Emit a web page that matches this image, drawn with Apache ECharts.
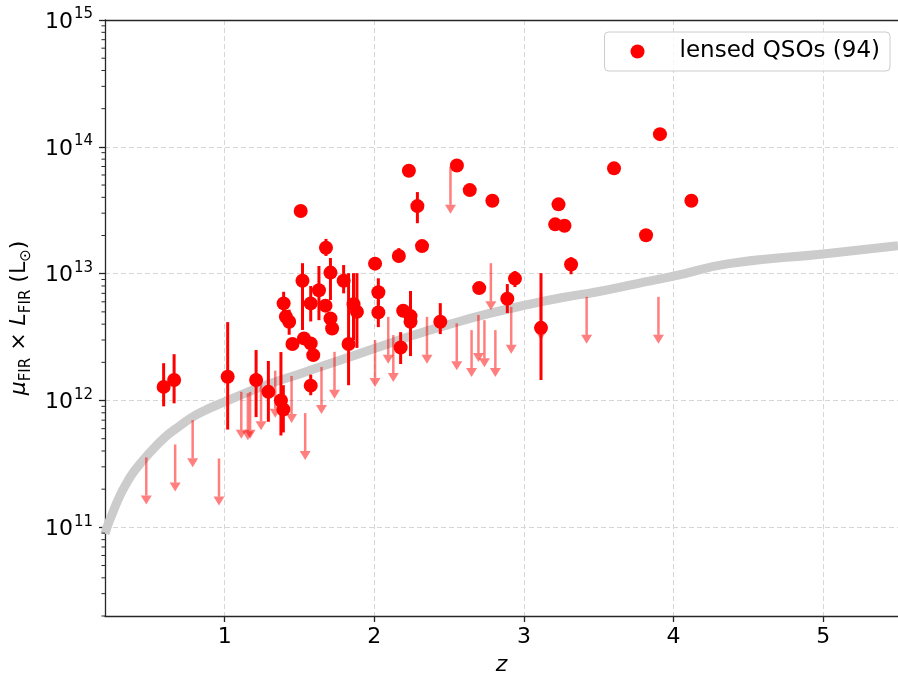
<!DOCTYPE html>
<html>
<head>
<meta charset="utf-8">
<script src="https://cdn.jsdelivr.net/npm/echarts@6/dist/echarts.min.js"></script>
<style>
  html, body { margin: 0; padding: 0; background: #ffffff; }
  #chart { width: 898px; height: 682px; }
</style>
</head>
<body>
<div id="chart"></div>
<script>
// Detected lensed QSOs: redshift, mu*L_FIR and its error range (null = no bar)
const detZ  = [0.592, 0.662, 1.020, 1.210, 1.292, 1.376, 1.392, 1.508, 1.677, 2.005,
               2.164, 1.520, 1.707, 1.795, 1.630, 1.394, 1.575, 1.409, 1.431, 1.674,
               1.861, 1.884, 1.707, 1.718, 1.530, 1.575, 1.453, 1.592, 1.828, 1.575,
               2.027, 2.027, 2.193, 2.242, 2.242, 2.176, 2.441, 2.231, 2.288, 2.319,
               2.552, 2.638, 2.789, 2.701, 2.940, 2.889, 3.114, 3.231, 3.209, 3.271,
               3.315, 3.602, 3.909, 3.816, 4.119];
const detL  = [1.28e12, 1.45e12, 1.54e12, 1.45e12, 1.17e12, 1.00e12, 8.5e11, 3.12e13, 1.60e13, 1.20e13,
               1.38e13, 8.8e12, 1.02e13, 8.8e12, 7.4e12, 5.83e12, 5.83e12, 4.57e12, 4.18e12, 5.6e12,
               5.75e12, 5.0e12, 4.44e12, 3.7e12, 3.09e12, 2.82e12, 2.79e12, 2.28e12, 2.79e12, 1.31e12,
               7.13e12, 4.95e12, 5.1e12, 4.63e12, 4.18e12, 2.62e12, 4.18e12, 6.48e13, 3.41e13, 1.65e13,
               7.12e13, 4.56e13, 3.76e13, 7.7e12, 9.15e12, 6.34e12, 3.74e12, 3.52e13, 2.45e13, 2.39e13,
               1.18e13, 6.77e13, 1.26e14, 2.01e13, 3.76e13];
const detLo = [9.0e11, 9.5e11, 5.9e11, 7.4e11, 6.8e11, 5.3e11, 5.6e11, null, 1.38e13, null,
               1.23e13, 3.6e12, 6.2e12, 7.0e12, 4.3e12, 4.47e12, 4.2e12, null, 3.3e12, null,
               3.0e12, 2.6e12, null, null, null, null, null, null, 1.32e12, 1.1e12,
               5.65e12, 3.79e12, null, 2.24e12, null, 1.94e12, 3.34e12, null, 2.5e13, null,
               null, null, null, null, 7.84e12, 4.89e12, 1.45e12, null, null, null,
               9.9e12, null, null, null, null];
const detHi = [1.97e12, 2.32e12, 4.15e12, 2.5e12, 2.05e12, 2.41e12, 1.32e12, null, 1.88e13, null,
               1.59e13, 1.21e13, 1.33e13, 1.17e13, 1.15e13, 7.2e12, 8.0e12, null, 5.2e12, null,
               1.01e13, 1.01e13, null, null, null, null, null, null, 1.01e13, 1.6e12,
               9.2e12, 6.2e12, null, 7.3e12, null, 3.46e12, 5.86e12, null, 4.4e13, null,
               null, null, null, null, 1.05e13, 8.28e12, 1.01e13, null, null, null,
               1.35e13, null, null, null, null];

// Non-detections: redshift and upper limit on mu*L_FIR
const limZ = [0.476, 0.669, 0.786, 0.962, 1.111, 1.155, 1.170, 1.243, 1.338, 1.447,
              1.538, 1.647, 1.734, 2.005, 2.093, 2.127, 2.352, 2.509, 2.551, 2.650,
              2.696, 2.736, 2.779, 2.809, 2.915, 3.114, 3.419, 3.899];
const limL = [3.56e11, 4.5e11, 7.0e11, 3.49e11, 1.17e12, 1.14e12, 1.17e12, 1.37e12, 1.72e12, 1.56e12,
              7.96e11, 1.84e12, 2.42e12, 3.0e12, 4.57e12, 3.28e12, 4.57e12, 6.97e13, 4.06e12, 3.59e12,
              4.72e12, 4.3e12, 1.21e13, 3.59e12, 5.48e12, 7.0e12, 6.57e12, 6.57e12];

// Detection-limit curve
const curveZ = [0.2, 0.22, 0.25, 0.3, 0.35, 0.4, 0.5, 0.6, 0.7, 0.8, 0.9, 1.0, 1.25, 1.5,
                1.75, 2.0, 2.25, 2.5, 2.75, 3.0, 3.25, 3.5, 3.75, 4.0, 4.37, 5.0, 5.5];
const curveL = [8.9e10, 1.05e11, 1.29e11, 1.78e11, 2.29e11, 2.82e11, 3.89e11, 5.13e11, 6.31e11, 7.59e11,
                8.71e11, 9.77e11, 1.29e12, 1.62e12, 2.04e12, 2.57e12, 3.24e12, 3.98e12, 4.79e12, 5.62e12,
                6.46e12, 7.24e12, 8.32e12, 9.55e12, 1.2e13, 1.43e13, 1.66e13];

const xTicks = [1, 2, 3, 4, 5];
const yTicks = [1e11, 1e12, 1e13, 1e14, 1e15];
const X_MIN = 0.2, X_MAX = 5.5, Y_MIN = 2e10, Y_MAX = 1.0005e15;

const FONT = 'DejaVu Sans';
const RED = '#ff0000';
const LIM_RED = 'rgba(255,0,0,0.5)';
const AXIS_COLOR = '#262626';
const GRID_COLOR = '#d6d6d6';

// minor ticks of the log axis: 2..9 x 10^k
const minorVals = [];
for (let k = 10; k < 15; k++) {
  for (let m = 2; m <= 9; m++) {
    const v = m * Math.pow(10, k);
    if (v >= Y_MIN && v <= Y_MAX) minorVals.push(v);
  }
}

const scatterData = detZ.map((z, i) => [z, detL[i]]);
const barData = [];
detZ.forEach((z, i) => {
  if (detLo[i] !== null && detHi[i] !== null) barData.push([z, detLo[i], detHi[i]]);
});
const limData = limZ.map((z, i) => [z, limL[i]]);
const curveData = curveZ.map((z, i) => [z, curveL[i]]);

const chart = echarts.init(document.getElementById('chart'), null, { renderer: 'canvas' });

const ARROW_LEN = 47, HEAD_LEN = 9, HEAD_HALF = 5.5;

chart.setOption({
  animation: false,
  backgroundColor: '#ffffff',
  textStyle: { fontFamily: FONT },
  grid: { left: 103, right: -4, top: 20, bottom: 66, containLabel: false },
  legend: {
    data: [{ name: 'lensed QSOs (94)', icon: 'circle' }],
    right: 8, top: 32,
    orient: 'vertical',
    itemWidth: 14, itemHeight: 14,
    padding: [8, 10, 8, 26],
    backgroundColor: 'rgba(255,255,255,0.8)',
    borderColor: '#cccccc', borderWidth: 1, borderRadius: 4,
    textStyle: { fontFamily: FONT, fontSize: 23, color: '#000', padding: [0, 0, 0, 30] }
  },
  xAxis: [{
    type: 'value', min: X_MIN, max: X_MAX,
    axisLine: { show: true, lineStyle: { color: AXIS_COLOR, width: 1.3 } },
    axisTick: { show: true, customValues: xTicks, length: 6, inside: false, lineStyle: { color: AXIS_COLOR, width: 1.3 } },
    axisLabel: { customValues: xTicks, fontFamily: FONT, fontSize: 22, color: '#000', margin: 10 },
    splitLine: { show: true, lineStyle: { color: GRID_COLOR, width: 1, type: [5, 3] } },
    name: 'z', nameLocation: 'middle', nameGap: 38,
    nameTextStyle: { fontFamily: FONT, fontSize: 22, fontStyle: 'italic', color: '#000' }
  }, {
    type: 'value', min: X_MIN, max: X_MAX, position: 'top',
    axisLine: { show: true, lineStyle: { color: AXIS_COLOR, width: 1.3 } },
    axisTick: { show: false }, axisLabel: { show: false }, splitLine: { show: false }
  }],
  yAxis: {
    type: 'log', logBase: 10, min: Y_MIN, max: Y_MAX,
    axisLine: { show: true, lineStyle: { color: AXIS_COLOR, width: 1.3 } },
    axisTick: { show: true, customValues: yTicks, length: 6, lineStyle: { color: AXIS_COLOR, width: 1.3 } },
    axisLabel: {
      customValues: yTicks, margin: 12, color: '#000',
      formatter: v => '{b|10}{s|' + Math.round(Math.log10(v)) + '}',
      rich: {
        b: { fontFamily: FONT, fontSize: 22, color: '#000', lineHeight: 26, verticalAlign: 'bottom' },
        s: { fontFamily: FONT, fontSize: 15, color: '#000', lineHeight: 26, verticalAlign: 'top', padding: [0, 0, 8, 1] }
      }
    },
    splitLine: { show: true, lineStyle: { color: GRID_COLOR, width: 1, type: [5, 3] } },
    name: '{i|μ}{sub|FIR}{t| × }{i|L}{sub|FIR}{t| (L}{sub|⊙}{t|)}',
    nameLocation: 'middle', nameRotate: 90, nameGap: 62,
    nameTextStyle: {
      rich: {
        i: { fontFamily: FONT, fontSize: 22, fontStyle: 'italic', color: '#000', lineHeight: 28, verticalAlign: 'bottom' },
        t: { fontFamily: FONT, fontSize: 22, color: '#000', lineHeight: 28, verticalAlign: 'bottom' },
        sub: { fontFamily: FONT, fontSize: 15, color: '#000', lineHeight: 28, verticalAlign: 'bottom', padding: [0, 0, -4, 0] }
      }
    }
  },
  series: [
    {
      name: 'limit curve', type: 'line', data: curveData,
      smooth: 0.5, showSymbol: false, silent: true,
      lineStyle: { color: '#cccccc', width: 9, join: 'round' }, z: 1
    },
    {
      name: 'upper limits', type: 'custom', data: limData, z: 2, silent: true,
      renderItem: (params, api) => {
        const p = api.coord([api.value(0), api.value(1)]);
        const x = p[0], y = p[1];
        return {
          type: 'group',
          children: [
            { type: 'line', shape: { x1: x, y1: y, x2: x, y2: y + ARROW_LEN - HEAD_LEN },
              style: { stroke: LIM_RED, lineWidth: 2.5 } },
            { type: 'polygon',
              shape: { points: [[x - HEAD_HALF, y + ARROW_LEN - HEAD_LEN], [x + HEAD_HALF, y + ARROW_LEN - HEAD_LEN], [x, y + ARROW_LEN]] },
              style: { fill: LIM_RED } }
          ]
        };
      }
    },
    {
      name: 'error bars', type: 'custom', data: barData, z: 3, silent: true,
      renderItem: (params, api) => {
        const a = api.coord([api.value(0), api.value(1)]);
        const b = api.coord([api.value(0), api.value(2)]);
        return { type: 'line', shape: { x1: a[0], y1: a[1], x2: b[0], y2: b[1] },
                 style: { stroke: RED, lineWidth: 3 } };
      }
    },
    {
      name: 'lensed QSOs (94)', type: 'scatter', data: scatterData, z: 4,
      symbol: 'circle', symbolSize: 14, itemStyle: { color: RED, opacity: 1 }
    },
    {
      name: 'minor ticks', type: 'custom', data: minorVals.map(v => [X_MIN, v]), z: 5, silent: true,
      renderItem: (params, api) => {
        const p = api.coord([api.value(0), api.value(1)]);
        return { type: 'line', shape: { x1: p[0] - 3.5, y1: p[1], x2: p[0], y2: p[1] },
                 style: { stroke: AXIS_COLOR, lineWidth: 1 } };
      }
    }
  ]
});
</script>
</body>
</html>
